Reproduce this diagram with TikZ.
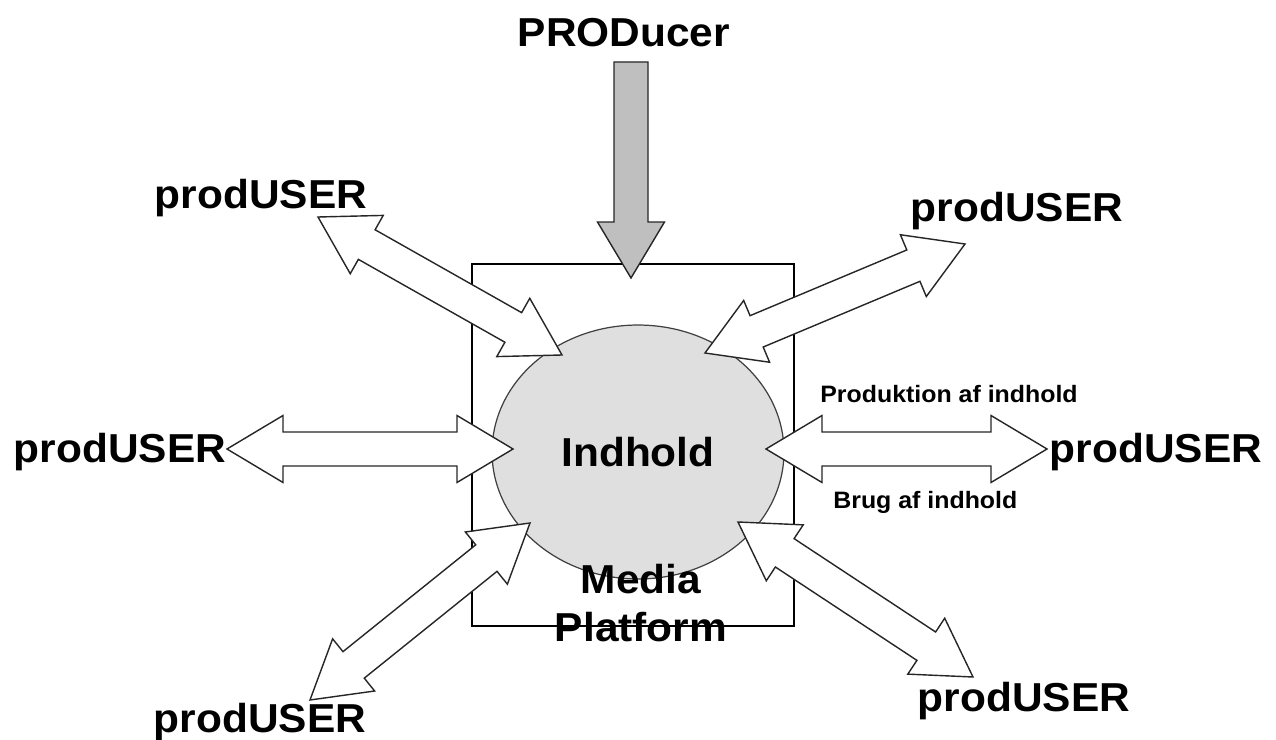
\documentclass[tikz,border=0pt]{standalone}
\usepackage{fontspec}
\setmainfont{Liberation Sans}[FakeStretch=1.05]
\usetikzlibrary{calc,shapes.geometric}

% arrow sizes
\def\hl{1.12cm}
\def\hw{0.67cm}
\def\sw{0.34cm}

\begin{document}
\begin{tikzpicture}[x=0.02cm,y=-0.02cm]
%%%%%%%%%%%%%%%%%%%%%%%%%%%%%%%%%%%%%%%%%%%%%%%%%%%%%%%%
% STYLE
\tikzstyle{big}=[font=\bfseries\fontsize{23}{27}\selectfont,inner sep=0pt]
\tikzstyle{small}=[font=\bfseries\fontsize{13.5}{16}\selectfont,inner sep=0pt]
\tikzstyle{platformbox}=[rectangle,draw,line width=0.7pt,minimum width=6.44cm,minimum height=7.24cm]
\tikzstyle{content}=[ellipse,draw=black!75,line width=0.7pt,fill=gray!25,minimum width=5.84cm,minimum height=5.08cm,inner sep=0pt]
\tikzstyle{dbl}=[draw=black!85,fill=white,line width=0.8pt,line join=miter,to path={
  -- ($(\tikztostart)!\hl!(\tikztotarget)!\hw!90:(\tikztotarget)$)
  -- ($(\tikztostart)!\hl!(\tikztotarget)!\sw!90:(\tikztotarget)$)
  -- ($(\tikztotarget)!\hl!(\tikztostart)!\sw!-90:(\tikztostart)$)
  -- ($(\tikztotarget)!\hl!(\tikztostart)!\hw!-90:(\tikztostart)$)
  -- (\tikztotarget)
  -- ($(\tikztotarget)!\hl!(\tikztostart)!\hw!90:(\tikztostart)$)
  -- ($(\tikztotarget)!\hl!(\tikztostart)!\sw!90:(\tikztostart)$)
  -- ($(\tikztostart)!\hl!(\tikztotarget)!\sw!-90:(\tikztotarget)$)
  -- ($(\tikztostart)!\hl!(\tikztotarget)!\hw!-90:(\tikztotarget)$)
  -- cycle}]
\tikzstyle{sgl}=[draw=black!85,fill=gray!50,line width=0.8pt,line join=miter,to path={
  -- ($(\tikztostart)!\sw!90:(\tikztotarget)$)
  -- ($(\tikztotarget)!\hl!(\tikztostart)!\sw!-90:(\tikztostart)$)
  -- ($(\tikztotarget)!\hl!(\tikztostart)!\hw!-90:(\tikztostart)$)
  -- (\tikztotarget)
  -- ($(\tikztotarget)!\hl!(\tikztostart)!\hw!90:(\tikztostart)$)
  -- ($(\tikztotarget)!\hl!(\tikztostart)!\sw!90:(\tikztostart)$)
  -- ($(\tikztostart)!\sw!-90:(\tikztotarget)$)
  -- cycle}]

\useasboundingbox (0,0) rectangle (1276,740);

%%%%%%%%%%%%%%%%%%%%%%%%%%%%%%%%%%%%%%%%%%%%%%%%%%%%%%%%
% NODES
\node[platformbox] (platform) at (633,445) {};
\node[content] (indhold) at (638,452) {};

\coordinate (Ptop) at (631,62);
\coordinate (Ptip) at (631,278);

\coordinate (ULout) at (318,217);
\coordinate (ULin) at (562,355);
\coordinate (URout) at (965,244);
\coordinate (URin) at (705,353);
\coordinate (Lout) at (227,449);
\coordinate (Lin) at (513,449);
\coordinate (Rout) at (1047,449);
\coordinate (Rin) at (766,449);
\coordinate (LLout) at (310,700);
\coordinate (LLin) at (530,523);
\coordinate (LRout) at (973,677);
\coordinate (LRin) at (738,522);

%%%%%%%%%%%%%%%%%%%%%%%%%%%%%%%%%%%%%%%%%%%%%%%%%%%%%%%%
% LINKS
\draw[sgl] (Ptop) to (Ptip);

\draw[dbl] (ULout) to (ULin);
\draw[dbl] (URout) to (URin);
\draw[dbl] (Lout) to (Lin);
\draw[dbl] (Rin) to (Rout);
\draw[dbl] (LLout) to (LLin);
\draw[dbl] (LRout) to (LRin);

%%%%%%%%%%%%%%%%%%%%%%%%%%%%%%%%%%%%%%%%%%%%%%%%%%%%%%%%
% TEXT
\node[big] (tind) at (indhold.center) {Indhold};
\node[big,align=center,font=\bfseries\fontsize{23}{27}\selectfont] (tmedia) at (641,603) {Media\\Platform};

\node[big,anchor=base] (producer) at (624,47) {PRODucer};
\node[big,anchor=base] (uUL) at (261,209) {prodUSER};
\node[big,anchor=base] (uUR) at (1017,222) {prodUSER};
\node[big,anchor=base] (uL) at (120,462) {prodUSER};
\node[big,anchor=base] (uR) at (1156,462) {prodUSER};
\node[big,anchor=base] (uLL) at (260,732) {prodUSER};
\node[big,anchor=base] (uLR) at (1024,711) {prodUSER};

\node[small,anchor=base west] (t1) at (820,402) {Produktion af indhold};
\node[small,anchor=base west] (t2) at (833,508) {Brug af indhold};

\end{tikzpicture}
\end{document}
